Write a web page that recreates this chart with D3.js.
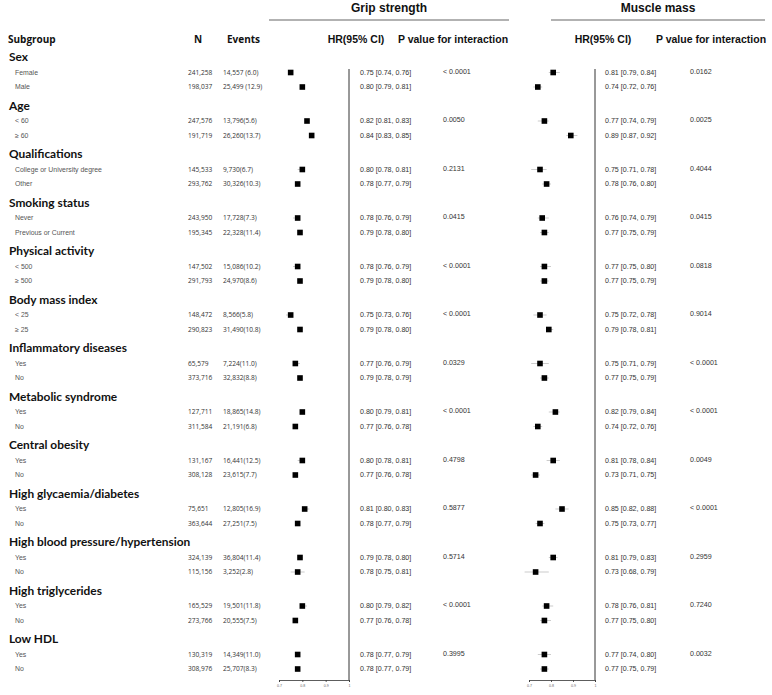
<!DOCTYPE html>
<html>
<head>
<meta charset="utf-8">
<script src="https://cdn.jsdelivr.net/npm/d3@7"></script>
<style>
  body { margin: 0; background: #fff; }
  text { font-family: "Liberation Sans", Arial, sans-serif; }
  .grp { font-family: Lato, sans-serif; font-weight: bold; font-size: 11.9px; fill: #111; }
  .sub { font-size: 6.9px; fill: #555; }
  .num { font-family: "Open Sans", sans-serif; font-size: 6.6px; fill: #333; }
  .hr { font-size: 7.1px; fill: #333; }
  .colhead { font-weight: bold; font-size: 10.5px; fill: #111; }
  .colhead2 { font-family: "Open Sans", sans-serif; font-weight: bold; font-size: 10px; fill: #111; }
  .axis text { font-size: 3.6px; fill: #666; }
  .axis path, .axis line { stroke: #333; stroke-width: 0.8; }
</style>
</head>
<body>
<div class="content"></div>
<script>
const SVG_W = 772;
const SVG_H = 695;

// data
const groupNames = ["Sex", "Age", "Qualifications", "Smoking status", "Physical activity", "Body mass index",
  "Inflammatory diseases", "Metabolic syndrome", "Central obesity", "High glycaemia/diabetes",
  "High blood pressure/hypertension", "High triglycerides", "Low HDL"];
const subgroupNames = ["Female", "Male", "< 60", "\u2265 60", "College or University degree", "Other",
  "Never", "Previous or Current", "< 500", "\u2265 500", "< 25", "\u2265 25", "Yes", "No", "Yes", "No",
  "Yes", "No", "Yes", "No", "Yes", "No", "Yes", "No", "Yes", "No"];
const nValues = ["241,258", "198,037", "247,576", "191,719", "145,533", "293,762", "243,950", "195,345",
  "147,502", "291,793", "148,472", "290,823", "65,579", "373,716", "127,711", "311,584", "131,167", "308,128",
  "75,651", "363,644", "324,139", "115,156", "165,529", "273,766", "130,319", "308,976"];
const eventValues = ["14,557 (6.0)", "25,499 (12.9)", "13,796(5.6)", "26,260(13.7)", "9,730(6.7)", "30,326(10.3)",
  "17,728(7.3)", "22,328(11.4)", "15,086(10.2)", "24,970(8.6)", "8,566(5.8)", "31,490(10.8)", "7,224(11.0)",
  "32,832(8.8)", "18,865(14.8)", "21,191(6.8)", "16,441(12.5)", "23,615(7.7)", "12,805(16.9)", "27,251(7.5)",
  "36,804(11.4)", "3,252(2.8)", "19,501(11.8)", "20,555(7.5)", "14,349(11.0)", "25,707(8.3)"];

const gripHR = [0.75, 0.80, 0.82, 0.84, 0.80, 0.78, 0.78, 0.79, 0.78, 0.79, 0.75, 0.79, 0.77, 0.79,
  0.80, 0.77, 0.80, 0.77, 0.81, 0.78, 0.79, 0.78, 0.80, 0.77, 0.78, 0.78];
const gripLo = [0.74, 0.79, 0.81, 0.83, 0.78, 0.77, 0.76, 0.78, 0.76, 0.78, 0.73, 0.78, 0.76, 0.78,
  0.79, 0.76, 0.78, 0.76, 0.80, 0.77, 0.78, 0.75, 0.79, 0.76, 0.77, 0.77];
const gripHi = [0.76, 0.81, 0.83, 0.85, 0.81, 0.79, 0.79, 0.80, 0.79, 0.80, 0.76, 0.80, 0.79, 0.79,
  0.81, 0.78, 0.81, 0.78, 0.83, 0.79, 0.80, 0.81, 0.82, 0.78, 0.79, 0.79];
const gripP = ["< 0.0001", "0.0050", "0.2131", "0.0415", "< 0.0001", "< 0.0001", "0.0329", "< 0.0001",
  "0.4798", "0.5877", "0.5714", "< 0.0001", "0.3995"];

const muscleHR = [0.81, 0.74, 0.77, 0.89, 0.75, 0.78, 0.76, 0.77, 0.77, 0.77, 0.75, 0.79, 0.75, 0.77,
  0.82, 0.74, 0.81, 0.73, 0.85, 0.75, 0.81, 0.73, 0.78, 0.77, 0.77, 0.77];
const muscleLo = [0.79, 0.72, 0.74, 0.87, 0.71, 0.76, 0.74, 0.75, 0.75, 0.75, 0.72, 0.78, 0.71, 0.75,
  0.79, 0.72, 0.78, 0.71, 0.82, 0.73, 0.79, 0.68, 0.76, 0.75, 0.74, 0.75];
const muscleHi = [0.84, 0.76, 0.79, 0.92, 0.78, 0.80, 0.79, 0.79, 0.80, 0.79, 0.78, 0.81, 0.79, 0.79,
  0.84, 0.76, 0.84, 0.75, 0.88, 0.77, 0.83, 0.79, 0.81, 0.80, 0.80, 0.79];
const muscleP = ["0.0162", "0.0025", "0.4044", "0.0415", "0.0818", "0.9014", "< 0.0001", "< 0.0001",
  "0.0049", "< 0.0001", "0.2959", "0.7240", "0.0032"];

const axisTicks = [0.7, 0.8, 0.9, 1];

// layout
const svg = d3.select(".content").append("svg")
  .attr("width", SVG_W).attr("height", SVG_H).attr("id", "forest");

const groupY = d3.scaleLinear().domain([0, groupNames.length - 1]).range([57, 639]);
const rowY = i => groupY(Math.floor(i / 2)) + (i % 2 === 0 ? 15.5 : 30);
const AXIS_Y = 680;
const TOP_Y = 69;

const fmt = d3.format(".2f");
const panels = [
  {title: "Grip strength", hr: gripHR, lo: gripLo, hi: gripHi, p: gripP,
   x: d3.scaleLinear().domain([0.7, 1]).range([279, 349]),
   titleX: 389, lineX: [269, 509], hrHeadX: 356, pHeadX: 453, textX: 360, pX: 443},
  {title: "Muscle mass", hr: muscleHR, lo: muscleLo, hi: muscleHi, p: muscleP,
   x: d3.scaleLinear().domain([0.7, 1]).range([529, 595]),
   titleX: 658, lineX: [551, 765], hrHeadX: 603, pHeadX: 711, textX: 605, pX: 690}
];

// column headers
const head = svg.append("g").attr("id", "headers");
head.append("text").attr("class", "colhead2").attr("x", 8).attr("y", 43).text("Subgroup");
head.append("text").attr("class", "colhead2").attr("x", 198).attr("y", 43).attr("text-anchor", "middle").text("N");
head.append("text").attr("class", "colhead2").attr("x", 227).attr("y", 43).text("Events");

// left table
const table = svg.append("g").attr("id", "table");
table.selectAll(".grp").data(groupNames).join("text")
  .attr("class", "grp").attr("x", 9).attr("y", (d, i) => groupY(i)).attr("dy", "0.35em").text(d => d);
table.selectAll(".sub").data(subgroupNames).join("text")
  .attr("class", "sub").attr("x", 15).attr("y", (d, i) => rowY(i)).attr("dy", "0.35em").text(d => d);
table.selectAll(".nval").data(nValues).join("text")
  .attr("class", "num nval").attr("x", 188).attr("y", (d, i) => rowY(i)).attr("dy", "0.35em").text(d => d);
table.selectAll(".ev").data(eventValues).join("text")
  .attr("class", "num ev").attr("x", 223).attr("y", (d, i) => rowY(i)).attr("dy", "0.35em").text(d => d);

// panels
panels.forEach((p, k) => {
  const g = svg.append("g").attr("id", "panel" + k);
  g.append("text").attr("class", "colhead").attr("x", p.titleX).attr("y", 12)
    .attr("text-anchor", "middle").style("font-size", "12px").text(p.title);
  g.append("line").attr("x1", p.lineX[0]).attr("x2", p.lineX[1]).attr("y1", 20).attr("y2", 20)
    .attr("stroke", "#666").attr("stroke-width", 1.2);
  g.append("text").attr("class", "colhead").attr("x", p.hrHeadX).attr("y", 43)
    .attr("text-anchor", "middle").text("HR(95% CI)");
  g.append("text").attr("class", "colhead").attr("x", p.pHeadX).attr("y", 43)
    .attr("text-anchor", "middle").text("P value for interaction");

  // reference line at HR = 1
  g.append("line").attr("x1", p.x(1)).attr("x2", p.x(1)).attr("y1", TOP_Y).attr("y2", AXIS_Y)
    .attr("stroke", "#333").attr("stroke-width", 1);

  // axis
  g.append("g").attr("class", "axis").attr("transform", "translate(0," + AXIS_Y + ")")
    .call(d3.axisBottom(p.x).tickValues(axisTicks).tickSize(2).tickPadding(2).tickFormat(d3.format("")));

  const rows = p.hr.map((v, i) => ({hr: v, lo: p.lo[i], hi: p.hi[i], i: i}));
  // CI whiskers
  g.selectAll(".ci").data(rows).join("line").attr("class", "ci")
    .attr("x1", d => p.x(d.lo)).attr("x2", d => p.x(d.hi))
    .attr("y1", d => rowY(d.i)).attr("y2", d => rowY(d.i))
    .attr("stroke", "#aaa").attr("stroke-width", 0.6);
  // squares
  const S = 5.6;
  g.selectAll(".pt").data(rows).join("rect").attr("class", "pt")
    .attr("x", d => p.x(d.hr) - S / 2).attr("y", d => rowY(d.i) - S / 2)
    .attr("width", S).attr("height", S).attr("fill", "#000");
  // HR text
  g.selectAll(".hrtxt").data(rows).join("text").attr("class", "hr hrtxt")
    .attr("x", p.textX).attr("y", d => rowY(d.i)).attr("dy", "0.35em")
    .text(d => fmt(d.hr) + " [" + fmt(d.lo) + ", " + fmt(d.hi) + "]");
  // p values
  g.selectAll(".ptxt").data(p.p).join("text").attr("class", "hr ptxt")
    .attr("x", p.pX).attr("y", (d, i) => rowY(i * 2) - 1).attr("dy", "0.35em").text(d => d);
});
</script>
</body>
</html>
